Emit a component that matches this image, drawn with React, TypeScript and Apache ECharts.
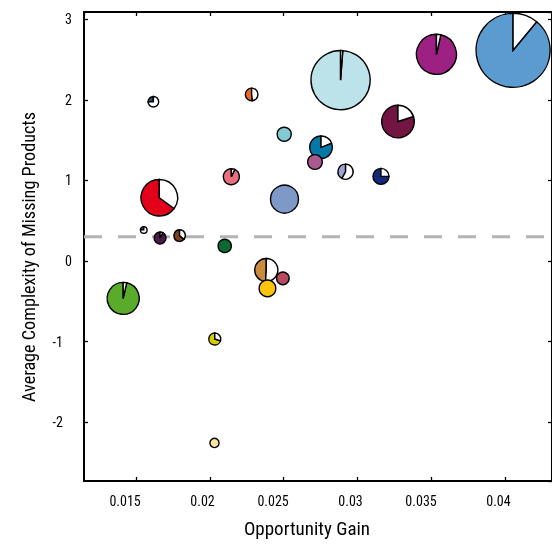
import React, { useEffect, useRef } from "react";
import * as echarts from "echarts";

// Opportunity gain (x), average complexity of missing products (y)
const gain = [0.01619, 0.02283, 0.02146, 0.01659, 0.01554, 0.01664, 0.01796, 0.02101, 0.02382, 0.02494, 0.0239, 0.02503, 0.02752, 0.02711, 0.02918, 0.03157, 0.02505, 0.02884, 0.03532, 0.03272, 0.0405, 0.01415, 0.02034, 0.02032];
const complexity = [1.976, 2.067, 1.046, 0.785, 0.386, 0.286, 0.315, 0.187, -0.112, -0.215, -0.34, 1.573, 1.411, 1.229, 1.108, 1.05, 0.768, 2.245, 2.565, 1.731, 2.615, -0.464, -0.968, -2.258];
// bubble size (area-like)
const size = [4.0, 5.44, 8.41, 40.1, 1.78, 4.99, 4.69, 5.92, 16.8, 5.44, 9.0, 6.59, 16.0, 7.11, 7.65, 8.41, 24.0, 102, 47.6, 32.1, 158, 31.0, 4.99, 3.12];
// share shown in white (starting at 12 o'clock, clockwise)
const whiteShare = [0.75, 0.48, 0.07, 0.35, 0.75, 0.08, 0.36, 0, 0.51, 0, 0, 0, 0.19, 0, 0.58, 0.25, 0, 0.012, 0.035, 0.2, 0.11, 0.035, 0.3, 0];
const colors = ["#1d4e74", "#ec6b1d", "#e96e7e", "#e2001a", "#1d4e74", "#4c1b47", "#7c4420", "#0b6a31", "#c98b3c", "#b84a5f", "#fcc30b", "#82cbd5", "#0378a6", "#a95b8f", "#a0a3d1", "#15297a", "#7e99c8", "#bce3ea", "#9c2182", "#731542", "#5b9bcf", "#5aab2c", "#d3cd00", "#fde4a1"];
const thresholdY = 0.3;
const xRange = [0.0115, 0.04313];
const yRange = [-2.73, 3.09];

const FONT = "'Roboto Condensed', 'Liberation Sans Narrow', sans-serif";

export default function App() {
  const ref = useRef<HTMLDivElement>(null);
  useEffect(() => {
    if (!ref.current) return;
    const chart = echarts.init(ref.current, null, { renderer: "svg" });
    const items = gain.map((g, i) => [g, complexity[i], size[i], whiteShare[i], i]);
    items.sort((a, b) => (b[2] as number) - (a[2] as number));

    const axisCommon = {
      type: "value" as const,
      splitLine: { show: false },
      axisLine: { show: true, onZero: false, lineStyle: { color: "#000", width: 2 } },
      axisTick: { show: true, inside: true, length: 4, lineStyle: { color: "#000", width: 1.3 } },
    };

    chart.setOption({
      animation: false,
      grid: { left: 84, right: -2, top: 12, bottom: 65, containLabel: false },
      xAxis: [
        {
          ...axisCommon,
          min: xRange[0],
          max: xRange[1],
          splitNumber: 6,
          position: "bottom",
          name: "Opportunity Gain",
          nameLocation: "middle",
          nameGap: 38,
          nameTextStyle: { fontFamily: FONT, fontSize: 19, color: "#000", padding: [0, 22, 0, 0] },
          axisLabel: {
            fontFamily: FONT, fontSize: 14, color: "#000", margin: 13,
            align: "right", padding: [0, -5, 0, 0],
            showMinLabel: false, showMaxLabel: false,
          },
        },
        {
          ...axisCommon,
          min: xRange[0],
          max: xRange[1],
          splitNumber: 6,
          position: "top",
          axisLabel: { show: false },
        },
      ],
      yAxis: [
        {
          ...axisCommon,
          min: yRange[0],
          max: yRange[1],
          splitNumber: 6,
          position: "left",
          name: "Average Complexity of Missing Products",
          nameLocation: "middle",
          nameGap: 47,
          nameTextStyle: { fontFamily: FONT, fontSize: 18.2, color: "#000", padding: [0, 21, 0, 0] },
          axisLabel: {
            fontFamily: FONT, fontSize: 14, color: "#000", margin: 12,
            showMinLabel: false, showMaxLabel: false,
            formatter: (v: number) => (v < 0 ? "{neg|" + v + "}" : "" + v),
            rich: { neg: { fontFamily: FONT, fontSize: 14, color: "#000", padding: [0, 9, 0, 0] } },
          },
        },
        {
          ...axisCommon,
          min: yRange[0],
          max: yRange[1],
          splitNumber: 6,
          position: "right",
          axisLabel: { show: false },
        },
      ],
      series: [
        {
          type: "line",
          data: [[xRange[0], thresholdY], [xRange[1], thresholdY]],
          showSymbol: false,
          symbol: "none",
          lineStyle: { color: "#b3b3b3", width: 3, type: [18, 16] },
          z: 1,
          silent: true,
        },
        {
          type: "custom",
          z: 3,
          clip: false,
          data: items,
          encode: { x: 0, y: 1 },
          renderItem: (params: any, api: any) => {
            const [cx, cy] = api.coord([api.value(0), api.value(1)]);
            const r = Math.sqrt(api.value(2)) * 3 - 0.7;
            const f = api.value(3);
            const stroke = { stroke: "#000", lineWidth: 1.4 };
            const color = colors[api.value(4)];
            if (f <= 0) {
              return { type: "circle", shape: { cx, cy, r }, style: { fill: color, ...stroke } };
            }
            const a0 = -Math.PI / 2;
            const a1 = a0 + f * Math.PI * 2;
            return {
              type: "group",
              children: [
                { type: "sector", shape: { cx, cy, r0: 0, r, startAngle: a1, endAngle: a0 + Math.PI * 2, clockwise: true }, style: { fill: color, ...stroke } },
                { type: "sector", shape: { cx, cy, r0: 0, r, startAngle: a0, endAngle: a1, clockwise: true }, style: { fill: "#fff", ...stroke } },
              ],
            };
          },
        },
      ],
    });
    return () => chart.dispose();
  }, []);
  return <div ref={ref} style={{ position: "fixed", left: 0, top: 0, width: 552, height: 546 }} />;
}
